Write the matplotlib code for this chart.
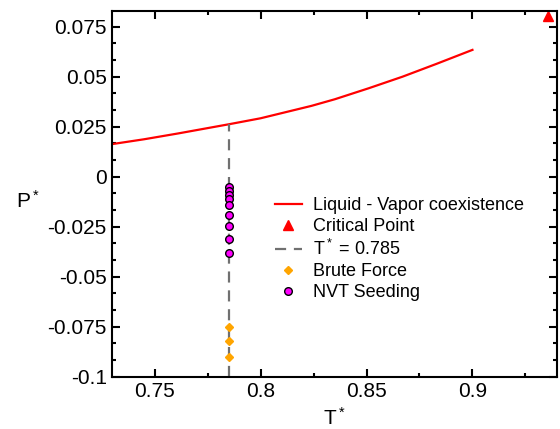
import matplotlib
matplotlib.use('Agg')
import matplotlib.pyplot as plt
from matplotlib.ticker import MultipleLocator

plt.rcParams['font.family'] = ['Liberation Sans', 'DejaVu Sans']
plt.rcParams['mathtext.fontset'] = 'custom'
plt.rcParams['mathtext.rm'] = 'Liberation Sans'
plt.rcParams['mathtext.it'] = 'Liberation Sans'

# liquid - vapor coexistence line
coex_T = [0.730, 0.745, 0.761, 0.785, 0.800, 0.824, 0.835, 0.851, 0.867, 0.883, 0.900]
coex_P = [0.0163, 0.0187, 0.0216, 0.0262, 0.0292, 0.0354, 0.0387, 0.0442, 0.0500,
          0.0564, 0.0634]

# critical point
crit_T = [0.9355]
crit_P = [0.0805]

# isotherm
T_iso = 0.785
P_iso = [-0.1, 0.0262]

# brute force points
bf_P = [-0.075, -0.0822, -0.090]

# NVT seeding points
nvt_P = [-0.005, -0.007, -0.009, -0.011, -0.014, -0.019, -0.0245, -0.031, -0.038]

fig = plt.figure(figsize=(5.6, 4.29), dpi=100)
ax = fig.add_axes([0.2005, 0.122, 0.7945, 0.8517])

ax.plot(coex_T, coex_P, color='#ff0000', lw=1.6, label='Liquid - Vapor coexistence')
ax.plot(crit_T, crit_P, ls='none', marker='^', ms=7, color='#ff0000', label='Critical Point')
ax.plot([T_iso, T_iso], P_iso, color='#707070', lw=1.6, ls=(0, (5, 3.5)),
        label=r'T$^*$ = 0.785')
ax.plot([T_iso] * len(bf_P), bf_P, ls='none', marker='D', ms=4.5, color='#ffa500',
        label='Brute Force')
ax.plot([T_iso] * len(nvt_P), nvt_P, ls='none', marker='o', ms=5.5,
        markerfacecolor='#ff00ff', markeredgecolor='black', markeredgewidth=1.0,
        label='NVT Seeding')

ax.set_xlim(0.73, 0.94)
ax.set_ylim(-0.1, 0.0827)
ax.xaxis.set_minor_locator(MultipleLocator(0.025))
ax.yaxis.set_minor_locator(MultipleLocator(0.025 / 3))

ax.set_xticks([0.75, 0.8, 0.85, 0.9])
ax.set_xticklabels(['0.75', '0.8', '0.85', '0.9'])
yt = [-0.1, -0.075, -0.05, -0.025, 0, 0.025, 0.05, 0.075]
ax.set_yticks(yt)
ax.set_yticklabels(['-0.1', '-0.075', '-0.05', '-0.025', '0', '0.025', '0.05', '0.075'])

for s in ax.spines.values():
    s.set_linewidth(1.5)
ax.tick_params(which='both', direction='in', top=True, right=True, width=1.5,
               labelsize=15, pad=4)
ax.tick_params(which='major', length=6)
ax.tick_params(which='minor', length=3)

ax.set_xlabel(r'T$^*$', fontsize=15, labelpad=4)
ax.set_ylabel(r'P$^*$', fontsize=15, rotation=0)
ax.yaxis.set_label_coords(-0.19, 0.45)

ax.legend(loc='upper left', bbox_to_anchor=(0.345, 0.516), frameon=False, fontsize=13,
          handlelength=1.5, handletextpad=0.6, labelspacing=0.22, borderpad=0)

fig.savefig('out.png', dpi=100)
